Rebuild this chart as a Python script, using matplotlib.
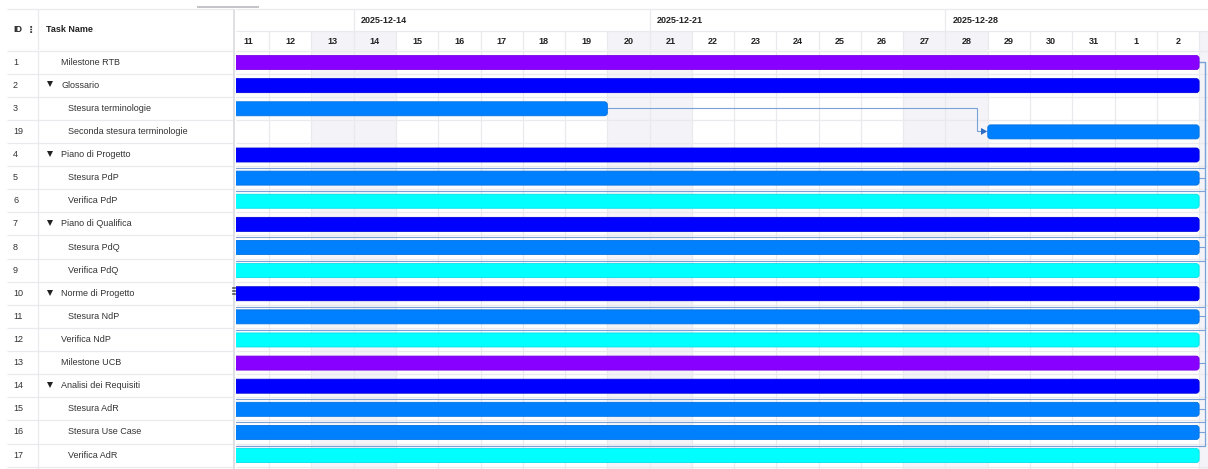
import numpy as np
import matplotlib.pyplot as plt
from matplotlib.patches import FancyBboxPatch, Rectangle, Polygon
from matplotlib.lines import Line2D

plt.rcParams['font.family'] = ['Liberation Sans', 'DejaVu Sans']

# ---- task table ----
task_ids = [1, 2, 3, 19, 4, 5, 6, 7, 8, 9, 10, 11, 12, 13, 14, 15, 16, 17]
task_names = ['Milestone RTB', 'Glossario', 'Stesura terminologie',
              'Seconda stesura terminologie', 'Piano di Progetto', 'Stesura PdP',
              'Verifica PdP', 'Piano di Qualifica', 'Stesura PdQ', 'Verifica PdQ',
              'Norme di Progetto', 'Stesura NdP', 'Verifica NdP', 'Milestone UCB',
              'Analisi dei Requisiti', 'Stesura AdR', 'Stesura Use Case', 'Verifica AdR']
task_levels = [0, 0, 1, 1, 0, 1, 1, 0, 1, 1, 0, 1, 0, 0, 0, 1, 1, 1]
task_open = [False, True, False, False, True, False, False, True, False, False,
             True, False, False, False, True, False, False, False]
task_kind = ['milestone', 'group', 'work', 'work', 'group', 'work', 'check', 'group',
             'work', 'check', 'group', 'work', 'check', 'milestone', 'group', 'work',
             'work', 'check']
task_start = ['2025-12-11'] * 3 + ['2025-12-29'] + ['2025-12-11'] * 14
task_end = ['2026-01-03', '2026-01-03', '2025-12-20'] + ['2026-01-03'] * 15
# finish-to-start links (by task id)
links = [(3, 19), (1, 5), (5, 6), (1, 8), (8, 9), (1, 11), (11, 12), (1, 15),
         (13, 16), (15, 17), (16, 17)]

view_start = np.datetime64('2025-12-11')
view_end = np.datetime64('2026-01-04')

kind_color = {'milestone': ('#8800ff', '#7a00e6'), 'group': ('#0000ff', '#0000dd'),
              'work': ('#0080ff', '#0070e0'), 'check': ('#00ffff', '#00e0e8')}

W, H = 1208, 469
TOP, SPLIT, HEAD_BOT = 9.0, 31.0, 50.5
ROW_H = 23.12
PANE_X, GANTT_X = 232.5, 235.5
DAY_PX, DAY0_PX = 42.27, 226.9
GRID = '#e9e9ee'
WEEKEND = '#f4f4f8'
TXT = '#333333'
LINK = '#7ba2d8'
FS = 6.5

fig = plt.figure(figsize=(W / 100, H / 100), dpi=100)


def px_axes(x0, y0, x1, y1):
    ax = fig.add_axes([x0 / W, 1 - y1 / H, (x1 - x0) / W, (y1 - y0) / H])
    ax.set_axis_off()
    return ax


n_vis = (H - HEAD_BOT) / ROW_H
xl = ((GANTT_X - DAY0_PX) / DAY_PX, (W - DAY0_PX) / DAY_PX)

# ---- left grid ----
th = px_axes(0, TOP - 1, PANE_X, HEAD_BOT)
th.set_xlim(0, PANE_X)
th.set_ylim(HEAD_BOT, TOP - 1)
th.hlines([TOP, HEAD_BOT], 7, PANE_X, color=GRID, lw=0.9)
th.vlines(38, TOP, HEAD_BOT, color=GRID, lw=0.9)
hy = (TOP + HEAD_BOT) / 2
th.text(13, hy, 'ID', fontsize=FS, fontweight='bold', color='#222', va='center')
th.text(26, hy, '\u22ee', fontsize=FS + 1, fontweight='bold', color='#444', va='center',
        family=['DejaVu Sans'])
th.text(46, hy, 'Task Name', fontsize=FS, fontweight='bold', color='#222', va='center')

tb = px_axes(0, HEAD_BOT, PANE_X, H)
tb.set_xlim(0, PANE_X)
tb.set_ylim(n_vis, 0)
tb.hlines(np.arange(len(task_ids) + 1), 7, PANE_X, color=GRID, lw=0.9)
tb.vlines(38, 0, n_vis, color=GRID, lw=0.9)
for r, (tid, name, lvl, opn) in enumerate(zip(task_ids, task_names, task_levels, task_open)):
    yc = r + 0.5
    tb.text(13, yc, str(tid), fontsize=FS, color=TXT, va='center')
    tb.text(61 + 7 * lvl, yc, name, fontsize=FS, color=TXT, va='center')
    if opn:
        tb.plot(49.5, yc - 0.03, marker='v', ms=4.2, color='#222', mew=0)

# ---- timeline ----
days = np.arange(view_start, view_end)
day_num = (days - view_start).astype(int)
weekday = (days.astype('datetime64[D]').astype(int) + 3) % 7

gh = px_axes(GANTT_X, TOP - 1, W, HEAD_BOT)
gh.set_xlim(*xl)
gh.set_ylim(HEAD_BOT, TOP - 1)
frac = (HEAD_BOT - SPLIT) / (HEAD_BOT - TOP + 1)
for i, wd, d in zip(day_num, weekday, days):
    if wd >= 5:
        gh.axvspan(i, i + 1, 0, frac, color=WEEKEND, lw=0, zorder=0)
    if i < 23:
        gh.text(i + 0.5, (SPLIT + HEAD_BOT) / 2 + 0.5, str(int(str(d)[8:10])),
                fontsize=FS, fontweight='bold', color='#222', ha='center', va='center')
    if wd == 6:
        gh.vlines(i, TOP, SPLIT, color=GRID, lw=0.9)
        gh.text(i + 7 / DAY_PX, (TOP + SPLIT) / 2 + 0.5, str(d), fontsize=FS,
                fontweight='bold', color='#222', ha='left', va='center')
gh.vlines(day_num, SPLIT, HEAD_BOT, color=GRID, lw=0.9)
gh.hlines([TOP, SPLIT, HEAD_BOT], xl[0], xl[1], color=GRID, lw=0.9)

gb = px_axes(GANTT_X, HEAD_BOT, W, H)
gb.set_xlim(*xl)
gb.set_ylim(n_vis, 0)
for i, wd in zip(day_num, weekday):
    if wd >= 5:
        gb.axvspan(i, i + 1, color=WEEKEND, lw=0, zorder=0)
gb.vlines(day_num, 0, n_vis, color=GRID, lw=0.9, zorder=1)
gb.hlines(np.arange(len(task_ids) + 1), xl[0], xl[1], color=GRID, lw=0.9, zorder=1)

starts = (np.array(task_start, dtype='datetime64[D]') - view_start).astype(float)
ends = (np.array(task_end, dtype='datetime64[D]') - view_start).astype(float)
bar_h = 14 / ROW_H
for r, kind in enumerate(task_kind):
    fc, ec = kind_color[kind]
    gb.add_patch(FancyBboxPatch((starts[r], r + 0.52 - bar_h / 2), ends[r] - starts[r], bar_h,
                                boxstyle='round,pad=0,rounding_size=0.07',
                                mutation_aspect=DAY_PX / ROW_H, fc=fc, ec=ec, lw=0.6,
                                zorder=3))

# dependency arrows
row_of = {tid: r for r, tid in enumerate(task_ids)}
gap = 6 / DAY_PX
for src, dst in links:
    rs, rd = row_of[src], row_of[dst]
    xe, xs = ends[rs], starts[rd]
    ys, yd = rs + 0.5, rd + 0.5
    pivot = xs - 11 / DAY_PX
    if pivot > xe + gap:
        xs_path = [xe, pivot, pivot, xs - 0.12]
        ys_path = [ys, ys, yd, yd]
    else:
        yb = rd + 2 / ROW_H
        xs_path = [xe, xe + gap, xe + gap, pivot, pivot, xs - 0.12]
        ys_path = [ys, ys, yb, yb, yd, yd]
    gb.plot(xs_path, ys_path, color=LINK, lw=0.8, zorder=2, solid_joinstyle='miter')
    gb.add_patch(Polygon([[xs - 0.16, yd - 0.15], [xs - 0.16, yd + 0.15], [xs - 0.01, yd]],
                         closed=True, fc='#2e6cc4', ec='none', zorder=4))

# pane splitter, grip and scroll thumb
fig.add_artist(Rectangle((PANE_X / W, 0), 2.5 / W, 1 - TOP / H, transform=fig.transFigure,
                         color='#dfe0e6', lw=0))
for yy in (288, 291, 294):
    fig.add_artist(Line2D([233.4 / W, 235.2 / W], [1 - yy / H] * 2, color='#555', lw=1.2))
fig.add_artist(Line2D([198 / W, 258 / W], [1 - 7.5 / H] * 2, color='#c4c4c8', lw=1.4))

fig.savefig('out.png', dpi=100, facecolor='white')
